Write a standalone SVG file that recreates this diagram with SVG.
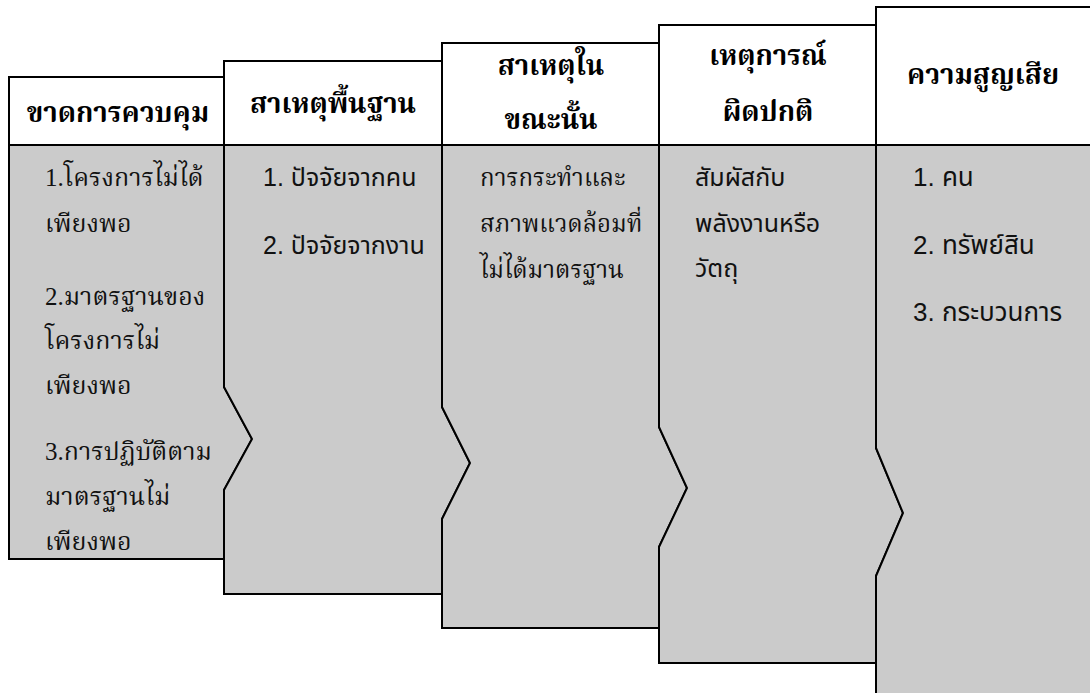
<svg xmlns="http://www.w3.org/2000/svg" width="1090" height="693" viewBox="0 0 1090 693">
<style>
.hd{fill:#ffffff;stroke:#000;stroke-width:2}
.bd{fill:#cbcbcb;stroke:#000;stroke-width:2;stroke-linejoin:miter}
.ht{font-family:"Liberation Serif","Noto Serif Thai","Noto Sans Thai",serif;font-weight:bold;font-size:27.5px;fill:#000;text-anchor:middle}
.ts{font-family:"Liberation Serif","Noto Serif Thai","Noto Sans Thai",serif;font-size:24px;fill:#111}
.t1{font-size:25px}
.tn{font-family:"Liberation Sans","Noto Sans Thai",sans-serif;font-size:25px;fill:#111}
.t5{font-size:26px}
</style>
<rect width="1090" height="693" fill="#fff"/>
<g id="p1">
<polygon class="bd" points="9,145 224,145 224,387 252,439 224,490 224,559 9,559"/>
<rect class="hd" x="9" y="77" width="215" height="68"/>
<text class="ht" x="118" y="122">ขาดการควบคุม</text>
<text class="ts t1" x="45" y="186">1.โครงการไม่ได้</text>
<text class="ts t1" x="45" y="232">เพียงพอ</text>
<text class="ts t1" x="45" y="305">2.มาตรฐานของ</text>
<text class="ts t1" x="45" y="349">โครงการไม่</text>
<text class="ts t1" x="45" y="394">เพียงพอ</text>
<text class="ts t1" x="45" y="460">3.การปฏิบัติตาม</text>
<text class="ts t1" x="45" y="505">มาตรฐานไม่</text>
<text class="ts t1" x="45" y="550">เพียงพอ</text>
</g>
<g id="p2">
<polygon class="bd" points="224,145 442,145 442,407 470,463 442,519 442,594 224,594 224,490 252,439 224,387"/>
<rect class="hd" x="224" y="61" width="218" height="84"/>
<text class="ht" x="333" y="113">สาเหตุพื้นฐาน</text>
<text class="tn" x="263" y="186">1. ปัจจัยจากคน</text>
<text class="tn" x="263" y="254">2. ปัจจัยจากงาน</text>
</g>
<g id="p3">
<polygon class="bd" points="442,145 659,145 659,427 687,488 659,547 659,628 442,628 442,519 470,463 442,407"/>
<rect class="hd" x="442" y="43" width="217" height="102"/>
<text class="ht" x="551" y="75">สาเหตุใน</text>
<text class="ht" x="551" y="129">ขณะนั้น</text>
<text class="ts" x="480" y="186">การกระทำและ</text>
<text class="ts" x="480" y="232">สภาพแวดล้อมที่</text>
<text class="ts" x="480" y="278">ไม่ได้มาตรฐาน</text>
</g>
<g id="p4">
<polygon class="bd" points="659,145 876,145 876,448 903,513 876,576 876,663 659,663 659,547 687,488 659,427"/>
<rect class="hd" x="659" y="25" width="217" height="120"/>
<text class="ht" x="768" y="65">เหตุการณ์</text>
<text class="ht" x="768" y="121">ผิดปกติ</text>
<text class="tn" x="695" y="186">สัมผัสกับ</text>
<text class="tn" x="695" y="232">พลังงานหรือ</text>
<text class="tn" x="695" y="277">วัตถุ</text>
</g>
<g id="p5">
<polygon class="bd" points="876,145 1100,145 1100,700 876,700 876,576 903,513 876,448"/>
<rect class="hd" x="876" y="7" width="224" height="138"/>
<text class="ht" x="983" y="84">ความสูญเสีย</text>
<text class="tn t5" x="913" y="186">1. คน</text>
<text class="tn t5" x="913" y="254">2. ทรัพย์สิน</text>
<text class="tn t5" x="913" y="321">3. กระบวนการ</text>
</g>
<g id="connectors"></g>
</svg>
